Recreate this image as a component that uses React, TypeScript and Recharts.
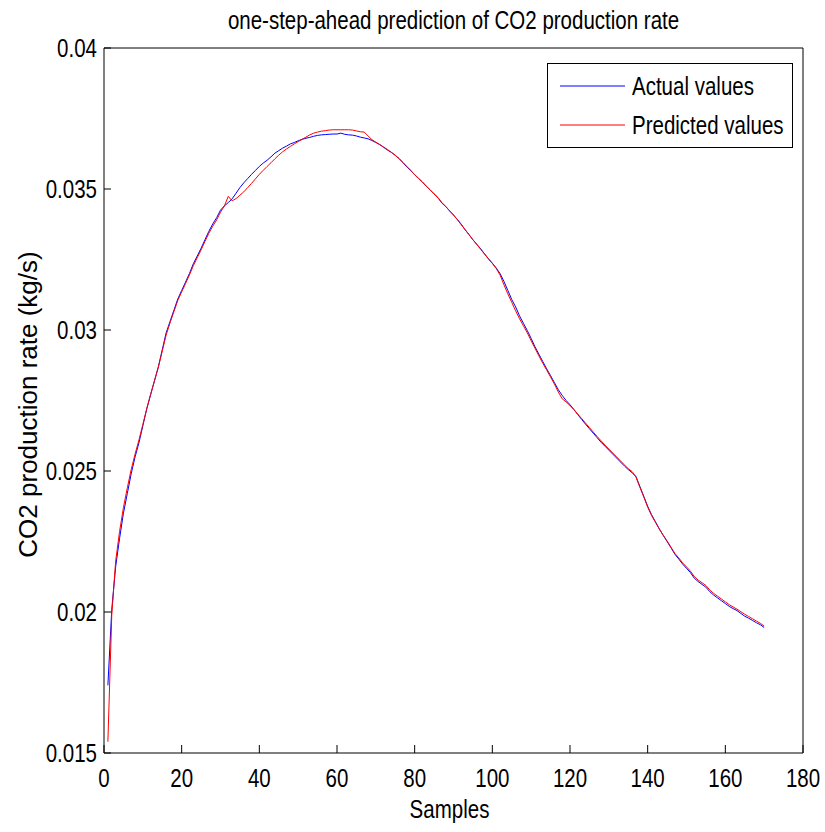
import React from "react";
import { LineChart, Line, XAxis, YAxis, Legend } from "recharts";

const samples = Array.from({ length: 170 }, (_, i) => i + 1);

const actualValues = [
    0.0174, 0.0201, 0.0216, 0.0226, 0.0235, 0.0242, 0.0249, 0.0255, 0.026, 0.0266,
    0.0272, 0.0277, 0.0282, 0.0287, 0.0293, 0.0299, 0.0303, 0.0307, 0.0311, 0.0314,
    0.0317, 0.032, 0.03235, 0.03262, 0.0329, 0.0332, 0.0335, 0.03376, 0.03398, 0.03425,
    0.0344, 0.03452, 0.03465, 0.03485, 0.03505, 0.03522, 0.03537, 0.03552, 0.03566, 0.0358,
    0.03592, 0.03602, 0.03614, 0.03627, 0.03636, 0.03645, 0.03652, 0.0366, 0.03665, 0.03671,
    0.03676, 0.0368, 0.03683, 0.03687, 0.0369, 0.03692, 0.03693, 0.03694, 0.03695, 0.03695,
    0.03698, 0.03694, 0.03692, 0.03691, 0.03688, 0.03684, 0.03681, 0.03678, 0.03672, 0.03665,
    0.03658, 0.03648, 0.03638, 0.0363, 0.03619, 0.03608, 0.03593, 0.03578, 0.03565, 0.03551,
    0.03538, 0.03525, 0.0351, 0.03497, 0.03483, 0.0347, 0.0345, 0.03438, 0.03422, 0.03408,
    0.03392, 0.03375, 0.03355, 0.03338, 0.0332, 0.03304, 0.03288, 0.0327, 0.03253, 0.03237,
    0.0322, 0.032, 0.03172, 0.0314, 0.03108, 0.03082, 0.0305, 0.03024, 0.02998, 0.0297,
    0.0294, 0.02914, 0.02888, 0.02862, 0.02838, 0.02813, 0.02788, 0.02768, 0.0275, 0.02735,
    0.02718, 0.027, 0.02683, 0.02666, 0.0265, 0.02634, 0.02618, 0.02602, 0.02588, 0.02574,
    0.0256, 0.02546, 0.02532, 0.02518, 0.02505, 0.02494, 0.0248, 0.02445, 0.0241, 0.02375,
    0.02345, 0.0232, 0.02295, 0.02272, 0.0225, 0.02228, 0.02205, 0.02188, 0.0217, 0.02155,
    0.0214, 0.0212, 0.02108, 0.02098, 0.02088, 0.02072, 0.0206, 0.0205, 0.0204, 0.0203,
    0.0202, 0.02012, 0.02005, 0.01995, 0.01985, 0.01978, 0.0197, 0.01962, 0.01955, 0.01945,
];

const predictedValues = [
    0.0154, 0.0199, 0.0218, 0.02285, 0.0237, 0.0244, 0.02505, 0.0256, 0.0261, 0.02665,
    0.0272, 0.02772, 0.0282, 0.02868, 0.02925, 0.02982, 0.03025, 0.03065, 0.03105, 0.03135,
    0.03165, 0.03195, 0.03228, 0.03256, 0.03284, 0.03314, 0.03343, 0.03368, 0.0339, 0.03418,
    0.0344, 0.03474, 0.03458, 0.03466, 0.03478, 0.0349, 0.03505, 0.0352, 0.03536, 0.03552,
    0.03566, 0.0358, 0.03593, 0.03607, 0.0362, 0.03632, 0.03642, 0.03651, 0.0366, 0.03668,
    0.03676, 0.03684, 0.03692, 0.03698, 0.03702, 0.03705, 0.03707, 0.03709, 0.0371, 0.0371,
    0.0371, 0.0371, 0.0371, 0.03709, 0.03706, 0.03703, 0.03702, 0.03688, 0.03675, 0.03666,
    0.03657, 0.03649, 0.0364, 0.0363, 0.0362, 0.03607, 0.03594, 0.0358, 0.03566, 0.0355,
    0.03537, 0.03524, 0.0351, 0.03496, 0.03482, 0.03468, 0.03452, 0.03438, 0.03423, 0.03407,
    0.03391, 0.03373, 0.03356, 0.03338, 0.0332, 0.03303, 0.03286, 0.03269, 0.03252, 0.03236,
    0.03218, 0.03195, 0.0316, 0.03128, 0.03098, 0.03068, 0.0304, 0.03015, 0.0299, 0.02962,
    0.02935, 0.02908, 0.02882, 0.02858, 0.02833, 0.02808, 0.0278, 0.02756, 0.02745, 0.02732,
    0.02718, 0.02702, 0.02686, 0.0267, 0.02654, 0.02638, 0.02622, 0.02607, 0.02592, 0.02578,
    0.02564, 0.0255, 0.02536, 0.02522, 0.02508, 0.02498, 0.02478, 0.02442, 0.02408, 0.02372,
    0.02342, 0.02318, 0.02294, 0.02272, 0.02252, 0.0223, 0.02208, 0.02192, 0.02174, 0.0216,
    0.02145, 0.02126, 0.02113, 0.02104, 0.02094, 0.02078, 0.02066, 0.02056, 0.02046, 0.02036,
    0.02026, 0.02018, 0.0201, 0.02001, 0.01992, 0.01984, 0.01976, 0.01968, 0.0196, 0.0195,
];

const xTicks = [0, 20, 40, 60, 80, 100, 120, 140, 160, 180];
const yTicks = [0.015, 0.02, 0.025, 0.03, 0.035, 0.04];

const data = samples.map((s, i) => ({
    sample: s,
    actual: actualValues[i],
    predicted: predictedValues[i],
}));

const font = "'Liberation Sans', Arial, sans-serif";
// MATLAB's Helvetica renders condensed here; squeeze Liberation Sans to match
const SQUEEZE = 0.82;

// text drawn at (x, y) and squeezed horizontally around that point
const NarrowText = ({ x, y, anchor, dy, size = 25, children }: any) => (
    <text
        transform={`translate(${x} ${y}) scale(${SQUEEZE} 1)`}
        x={0}
        y={0}
        dy={dy}
        textAnchor={anchor}
        fontFamily={font}
        fontSize={size}
        fill="#000"
    >
        {children}
    </text>
);

const XTick = (props: any) => (
    <NarrowText x={props.x} y={props.y} anchor="middle" dy="0.71em">
        {props.payload.value}
    </NarrowText>
);

const YTick = (props: any) => (
    <NarrowText x={props.x} y={props.y} anchor="end" dy="0.36em">
        {String(props.payload.value)}
    </NarrowText>
);

const Title = (props: any) => {
    const { viewBox } = props;
    return (
        <NarrowText x={viewBox.x + viewBox.width / 2} y={29} anchor="middle">
            one-step-ahead prediction of CO2 production rate
        </NarrowText>
    );
};

const XTitle = (props: any) => {
    const { viewBox } = props;
    return (
        <NarrowText x={viewBox.x + viewBox.width / 2 - 4} y={818} anchor="middle">
            Samples
        </NarrowText>
    );
};

const YTitle = (props: any) => {
    const { viewBox } = props;
    const cx = viewBox.x - 7;
    const cy = viewBox.y + viewBox.height / 2 + 4;
    return (
        <text
            x={cx}
            y={cy}
            transform={`rotate(-90 ${cx} ${cy})`}
            textAnchor="middle"
            fontFamily={font}
            fontSize={26}
            fill="#000"
        >
            CO2 production rate (kg/s)
        </text>
    );
};

const renderLegend = (props: any) => {
    const items = props.payload || [];
    return (
        <div
            style={{
                width: 246,
                height: 85,
                boxSizing: "border-box",
                border: "1px solid #000",
                background: "#fff",
                position: "relative",
                fontFamily: font,
                fontSize: 25,
                color: "#000",
            }}
        >
            {items.map((item: any, i: number) => (
                <div
                    key={item.value}
                    style={{
                        position: "absolute",
                        left: 0,
                        top: 22 + i * 39 - 15,
                        height: 30,
                        display: "flex",
                        alignItems: "center",
                    }}
                >
                    <svg width={84} height={30} style={{ display: "block" }}>
                        <line x1={12} x2={77} y1={15} y2={15} stroke={item.color} strokeWidth={1} />
                    </svg>
                    <span
                        style={{
                            lineHeight: "30px",
                            whiteSpace: "nowrap",
                            display: "inline-block",
                            transform: `scaleX(${SQUEEZE})`,
                            transformOrigin: "left center",
                        }}
                    >
                        {item.value}
                    </span>
                </div>
            ))}
        </div>
    );
};

export default function App() {
    return (
        <div style={{ position: "absolute", left: 0, top: 0, background: "#fff" }}>
            <LineChart
                width={825}
                height={832}
                data={data}
                margin={{ top: 47, right: 21, bottom: 39, left: 44 }}
            >
                <XAxis
                    dataKey="sample"
                    type="number"
                    domain={[0, 180]}
                    ticks={xTicks}
                    height={40}
                    stroke="#000"
                    tickSize={-8}
                    tickMargin={24}
                    tick={<XTick />}
                    label={<XTitle />}
                />
                <XAxis
                    xAxisId="top"
                    orientation="top"
                    dataKey="sample"
                    type="number"
                    domain={[0, 180]}
                    ticks={xTicks}
                    height={1}
                    stroke="#000"
                    tickSize={-8}
                    tick={false}
                    label={<Title />}
                />
                <YAxis
                    type="number"
                    domain={[0.015, 0.04]}
                    ticks={yTicks}
                    width={60}
                    stroke="#000"
                    tickSize={-7}
                    tickMargin={14}
                    tick={<YTick />}
                    label={<YTitle />}
                />
                <YAxis
                    yAxisId="right"
                    orientation="right"
                    type="number"
                    domain={[0.015, 0.04]}
                    ticks={yTicks}
                    width={1}
                    stroke="#000"
                    tickSize={-7}
                    tick={false}
                />
                <Legend
                    layout="vertical"
                    align="center"
                    verticalAlign="middle"
                    width={246}
                    height={85}
                    wrapperStyle={{ top: 63, left: 547, width: 246, height: 85 }}
                    content={renderLegend}
                />
                <Line
                    type="linear"
                    dataKey="actual"
                    name="Actual values"
                    stroke="#0000ff"
                    strokeWidth={1}
                    dot={false}
                    isAnimationActive={false}
                />
                <Line
                    type="linear"
                    dataKey="predicted"
                    name="Predicted values"
                    stroke="#ff0000"
                    strokeWidth={1}
                    dot={false}
                    isAnimationActive={false}
                />
            </LineChart>
        </div>
    );
}
